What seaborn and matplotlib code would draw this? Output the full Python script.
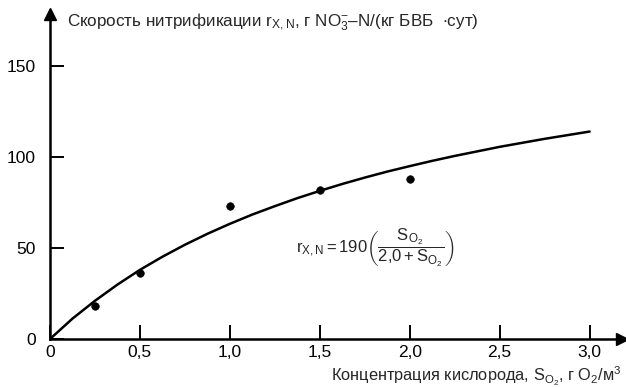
import numpy as np
import pandas as pd
import matplotlib
matplotlib.use("Agg")
import matplotlib.pyplot as plt
import seaborn as sns

# measured points
s_obs = [0.25, 0.5, 1.0, 1.5, 2.0]
r_obs = [18, 36, 73, 82, 88]

# fitted curve
s_fit = [0.0, 0.125, 0.25, 0.375, 0.5, 0.625, 0.75, 0.875, 1.0, 1.125, 1.25,
         1.375, 1.5, 1.625, 1.75, 1.875, 2.0, 2.125, 2.25, 2.375, 2.5, 2.625,
         2.75, 2.875, 3.0]
r_fit = [0, 11.2, 21, 29.9, 38, 45.2, 51.8, 57.8, 63.3, 68.4, 73, 77.4, 81.4,
         85.2, 88.7, 92, 95, 97.9, 100.6, 103.1, 105.6, 107.8, 110, 112, 114]

xticks = [0, 0.5, 1.0, 1.5, 2.0, 2.5, 3.0]
xtick_labels = ["0", "0,5", "1,0", "1,5", "2,0", "2,5", "3,0"]
yticks = [0, 50, 100, 150]
ytick_labels = ["0", "50", "100", "150"]

sns.set_style("white")
plt.rcParams['font.family'] = ['Liberation Sans', 'DejaVu Sans']
plt.rcParams['mathtext.fontset'] = 'custom'
plt.rcParams['mathtext.rm'] = 'Liberation Sans'
plt.rcParams['mathtext.it'] = 'Liberation Sans'
plt.rcParams['mathtext.bf'] = 'Liberation Sans:bold'

fig = plt.figure(figsize=(6.26, 3.87), dpi=100)
ax = fig.add_axes([50 / 626, 48 / 387, 572 / 626, 325 / 387])

fit = pd.DataFrame({"s": s_fit, "r": r_fit})
obs = pd.DataFrame({"s": s_obs, "r": r_obs})
sns.lineplot(data=fit, x="s", y="r", ax=ax, color="black", linewidth=1.8)
sns.scatterplot(data=obs, x="s", y="r", ax=ax, color="black", s=30,
                edgecolor="black", zorder=3)

ax.set_xlim(0, 3.18)
ax.set_ylim(0, 178.6)
for side in ["top", "right"]:
    ax.spines[side].set_visible(False)
for side in ["left", "bottom"]:
    ax.spines[side].set_linewidth(1.8)
    ax.spines[side].set_color("black")

ax.plot(1, 0, ">k", markersize=8, transform=ax.transAxes, clip_on=False)
ax.plot(0, 1, "^k", markersize=8, transform=ax.transAxes, clip_on=False)

ax.set_xticks(xticks)
ax.set_xticklabels(xtick_labels)
ax.set_yticks(yticks)
ax.set_yticklabels(ytick_labels)
ax.tick_params(axis="both", direction="in", length=10, width=1.4,
               labelsize=12.5, colors="black", bottom=True, left=True)
ax.tick_params(axis="x", pad=4)
ax.tick_params(axis="y", pad=10)
ax.set_xlabel("")
ax.set_ylabel("")

fig.text(67 / 626, 1 - 22 / 387,
         r"Скорость нитрификации $\mathrm{r_{X,N}}$, г NO$_3^{-}$–N/(кг БВБ  $\bullet$сут)",
         fontsize=12.3, ha="left", va="center")
fig.text(622 / 626, 1 - 376 / 387,
         r"Концентрация кислорода, S$_{\mathrm{O_2}}$, г O$_2$/м$^3$",
         fontsize=11.8, ha="right", va="center")
ax.text(1.37, 50,
        r"$\mathrm{r_{X,N}}=190\left(\dfrac{\mathrm{S_{O_2}}}{\mathrm{2{,}0+S_{O_2}}}\right)$",
        fontsize=12, ha="left", va="center")

fig.savefig("out.png", dpi=100)
